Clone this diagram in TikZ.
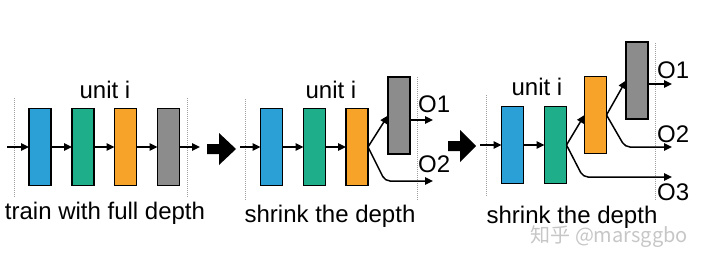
\documentclass[tikz,border=0pt]{standalone}
\usepackage{fontspec}
\setmainfont{Liberation Sans}
\newfontfamily\cjkfont{Noto Sans CJK SC}
\usetikzlibrary{arrows.meta}
\definecolor{ublue}{RGB}{42,160,214}
\definecolor{ugreen}{RGB}{30,174,138}
\definecolor{uorange}{RGB}{247,163,41}
\definecolor{ugray}{RGB}{140,140,140}
\begin{document}
\begin{tikzpicture}[x=1pt,y=-1pt,
  unitbox/.style={draw=black, line width=1.3pt, minimum width=22pt, minimum height=77pt, inner sep=0pt, outer sep=0pt},
  flow/.style={line width=1.5pt, -{Triangle[length=8pt,width=7.5pt]}},
  guide/.style={draw=gray!75, line width=0.6pt, dash pattern=on 1pt off 1pt},
  lbl/.style={font=\fontsize{24}{24}\selectfont, inner sep=0pt, anchor=base},
  olbl/.style={font=\fontsize{24}{24}\selectfont, inner sep=0pt, anchor=base west},
  bigarrow/.style={fill=black}]
\path[use as bounding box] (0,0) rectangle (705,265);

% ---------- panel 1 ----------
\draw[guide] (14,98) -- (14,198);
\draw[guide] (187,98) -- (187,198);
\node[unitbox, fill=ublue]   (b1) at (40,147) {};
\node[unitbox, fill=ugreen]  (g1) at (83,147) {};
\node[unitbox, fill=uorange] (o1) at (125.5,147) {};
\node[unitbox, fill=ugray]   (y1) at (168.5,147) {};
\coordinate (in1) at (7,147);
\coordinate (out1) at (200,147);
\draw[flow] (in1) -- (b1.west);
\draw[flow] (b1.east) -- (g1.west);
\draw[flow] (g1.east) -- (o1.west);
\draw[flow] (o1.east) -- (y1.west);
\draw[flow] (y1.east) -- (out1);
\node[lbl] (u1) at (105,98) {unit i};
\node[lbl] (t1) at (105,219) {train with full depth};

% big arrow 1
\fill[bigarrow] (207,144) -- (219,144) -- (219,133) -- (236,149) -- (219,165) -- (219,154) -- (207,154) -- cycle;

% ---------- panel 2 ----------
\draw[guide] (245,99) -- (245,200);
\draw[guide] (417,77) -- (417,200);
\node[unitbox, fill=ublue]   (b2) at (271.5,147) {};
\node[unitbox, fill=ugreen]  (g2) at (314.5,147) {};
\node[unitbox, fill=uorange] (o2) at (357,147) {};
\node[unitbox, fill=ugray]   (y2) at (399,115.5) {};
\coordinate (in2) at (240,147);
\coordinate (p2o1) at (433,120);
\coordinate (p2o2) at (433,181);
\draw[flow] (in2) -- (b2.west);
\draw[flow] (b2.east) -- (g2.west);
\draw[flow] (g2.east) -- (o2.west);
\draw[flow] (o2.east) -- (y2.west);
\draw[flow] (y2.east |- p2o1) -- (p2o1);
\draw[flow, rounded corners=5pt] (o2.east) -- (385,181) -- (p2o2);
\node[olbl] (l2a) at (418,112) {O1};
\node[olbl] (l2b) at (418,172) {O2};
\node[lbl] (u2) at (331,98) {unit i};
\node[lbl] (t2) at (330,222) {shrink the depth};

% big arrow 2
\fill[bigarrow] (448,141) -- (460,141) -- (460,130) -- (476,146) -- (460,162) -- (460,151) -- (448,151) -- cycle;

% ---------- panel 3 ----------
\draw[guide] (486,95) -- (486,197);
\draw[guide] (655,43) -- (655,200);
\node[unitbox, fill=ublue]   (b3) at (512.5,145) {};
\node[unitbox, fill=ugreen]  (g3) at (555.5,145) {};
\node[unitbox, fill=uorange] (o3) at (595.5,115) {};
\node[unitbox, fill=ugray]   (y3) at (637,80.5) {};
\coordinate (in3) at (480,145);
\coordinate (p3o1) at (672,84);
\coordinate (p3o2) at (672,147);
\coordinate (p3o3) at (672,177);
\draw[flow] (in3) -- (b3.west);
\draw[flow] (b3.east) -- (g3.west);
\draw[flow] (g3.east) -- (o3.west);
\draw[flow, rounded corners=5pt] (g3.east) -- (583,177) -- (p3o3);
\draw[flow] (o3.east) -- (y3.west);
\draw[flow, rounded corners=5pt] (o3.east) -- (625,147) -- (p3o2);
\draw[flow] (y3.east |- p3o1) -- (p3o1);
\node[olbl] (l3a) at (657,78) {O1};
\node[olbl] (l3b) at (657,142) {O2};
\node[olbl] (l3c) at (657,200) {O3};
\node[lbl] (u3) at (537,95) {unit i};
\node[lbl] (t3) at (572,223) {shrink the depth};

% watermark
\node[font=\cjkfont\fontsize{20}{20}\selectfont, text=gray!45, inner sep=0pt, anchor=base east] (wm) at (688,242) {知乎 @marsggbo};
\end{tikzpicture}
\end{document}
